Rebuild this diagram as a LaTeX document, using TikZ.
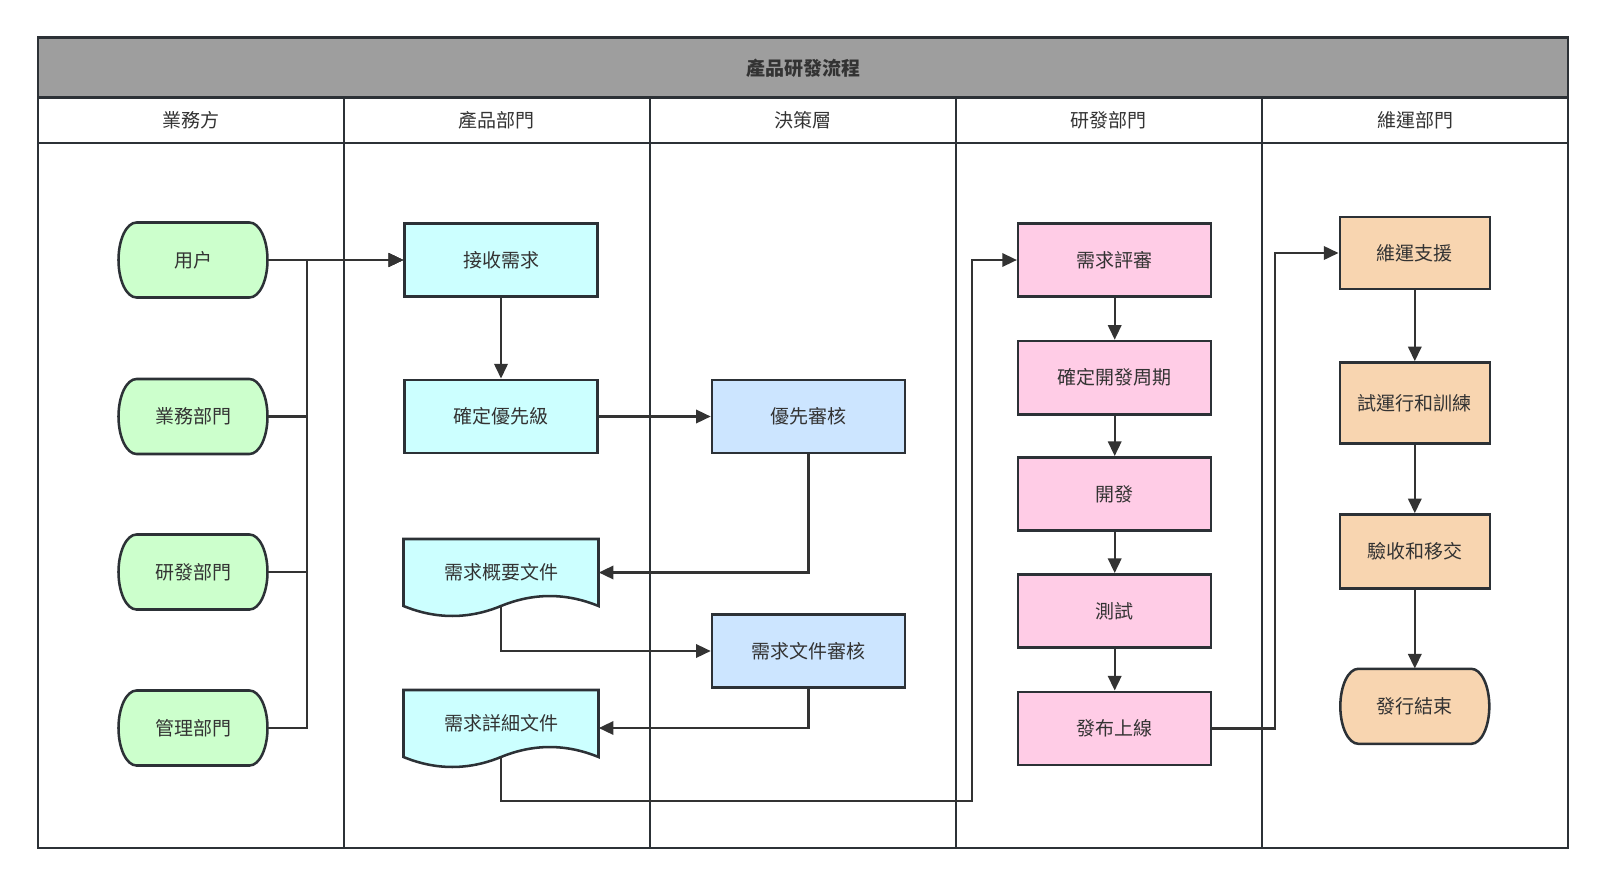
\documentclass[tikz,border=0pt]{standalone}
\usepackage{fontspec}
\setmainfont{Noto Sans CJK TC}
\usetikzlibrary{arrows.meta,calc}
\definecolor{frm}{HTML}{2C3136}
\definecolor{ln}{HTML}{333333}
\definecolor{txt}{HTML}{333333}
\definecolor{cgreen}{HTML}{CCFFCC}
\definecolor{ccyan}{HTML}{CCFFFF}
\definecolor{cblue}{HTML}{CCE5FF}
\definecolor{cpink}{HTML}{FFCCE6}
\definecolor{corange}{HTML}{F8D5B0}
\definecolor{cgray}{HTML}{9E9E9E}
\newcommand\fsz{\fontsize{14.25pt}{17pt}\selectfont}
% terminal: name, x, y, text, fill
\newcommand\termnode[5]{%
  \path[fill=#5,draw=frm,line width=1.9pt]
    (#2-56.5,#3-37.5) -- (#2+56.5,#3-37.5)
    arc[start angle=90,end angle=-90,x radius=13.5pt,y radius=28.125pt]
    -- (#2-56.5,#3+37.5)
    arc[start angle=270,end angle=90,x radius=13.5pt,y radius=28.125pt] -- cycle;
  \node[plain,minimum width=111.75pt,minimum height=56.25pt] (#1) at (#2,#3) {#4};}
% document: name, xc, top, base, text
\newcommand\docnode[5]{%
  \path[fill=ccyan,draw=frm,line width=1.9pt]
    (#2-97.5,#3) -- (#2+97.5,#3) -- (#2+97.5,#4)
    .. controls (#2+65,#4-13.3) and (#2+32.5,#4-13.3) .. (#2,#4)
    .. controls (#2-32.5,#4+13.3) and (#2-65,#4+13.3) .. (#2-97.5,#4) -- cycle;
  \node[plain,minimum width=146.25pt,minimum height={(#4-#3)*0.75pt}] (#1) at (#2,{(#3+#4)/2}) {#5};}
\begin{document}
\begin{tikzpicture}[x=0.75pt,y=-0.75pt,
  plain/.style={rectangle,inner sep=0pt,text=txt,font=\fsz},
  box/.style={plain,draw=frm,line width=1.9pt,minimum width=144.75pt,minimum height=55pt},
  obox/.style={plain,draw=frm,line width=1.9pt,fill=corange,minimum width=112.5pt,minimum height=54pt},
  lane/.style={draw=frm,line width=1.9pt},
  conn/.style={draw=ln,line width=1.8pt},
  arr/.style={conn,-{Triangle[length=11pt,width=10pt]}},
  hdr/.style={plain}]
\useasboundingbox (0,0) rectangle (1605,885);
% frame
\fill[cgray] (38,37.5) rectangle (1568,97.5);
\draw[lane] (38,97.5) -- (1568,97.5);
\draw[lane] (38,143) -- (1568,143);
\foreach \x in {343.8,649.8,955.8,1262} \draw[lane] (\x,97.5) -- (\x,848);
\draw[lane] (38,37.5) rectangle (1568,848);
\node[plain,font=\fsz\bfseries] (title) at (803,68) {產品研發流程};
\node[hdr] (h1) at (190.9,120.5) {業務方};
\node[hdr] (h2) at (496.8,120.5) {產品部門};
\node[hdr] (h3) at (802.8,120.5) {決策層};
\node[hdr] (h4) at (1108.9,120.5) {研發部門};
\node[hdr] (h5) at (1415,120.5) {維運部門};
% terminals
\termnode{u1}{193}{260}{用户}{cgreen}
\termnode{u2}{193}{416.5}{業務部門}{cgreen}
\termnode{u3}{193}{572}{研發部門}{cgreen}
\termnode{u4}{193}{728}{管理部門}{cgreen}
% product
\node[box,fill=ccyan] (p1) at (501,260) {接收需求};
\node[box,fill=ccyan] (p2) at (501,416.5) {確定優先級};
\docnode{d1}{501}{539}{606}{需求概要文件}
\docnode{d2}{501}{690}{757}{需求詳細文件}
% decision
\node[box,fill=cblue] (r1) at (808.5,416.5) {優先審核};
\node[box,fill=cblue] (r2) at (808.5,651) {需求文件審核};
% R&D
\node[box,fill=cpink] (e1) at (1114.7,260) {需求評審};
\node[box,fill=cpink] (e2) at (1114.7,377.7) {確定開發周期};
\node[box,fill=cpink] (e3) at (1114.7,494) {開發};
\node[box,fill=cpink] (e4) at (1114.7,611) {測試};
\node[box,fill=cpink] (e5) at (1114.7,728.5) {發布上線};
% ops
\node[obox] (o1) at (1414.8,253) {維運支援};
\node[obox,minimum height=60.75pt] (o2) at (1414.8,403) {試運行和訓練};
\node[obox,minimum height=55.5pt] (o3) at (1414.8,551.5) {驗收和移交};
\termnode{o4}{1414.8}{706.3}{發行結束}{corange}
% connectors
\coordinate (trunk) at (307,260);
\draw[arr] (u1.east) -- (p1.west);
\draw[arr] (u2.east) -| (trunk) -- (p1.west);
\draw[arr] (u3.east) -| (trunk) -- (p1.west);
\draw[arr] (u4.east) -| (trunk) -- (p1.west);
\draw[arr] (p1) -- (p2);
\draw[arr] (p2) -- (r1);
\draw[arr] (r1.south) |- (d1.east);
\draw[arr] (d1.south) |- (r2.west);
\draw[arr] (r2.south) |- ($(d2.east)+(0,4.5)$);
\coordinate (bend1) at (972,801);
\draw[arr] (d2.south) |- (bend1) |- (e1.west);
\draw[arr] (e1) -- (e2);
\draw[arr] (e2) -- (e3);
\draw[arr] (e3) -- (e4);
\draw[arr] (e4) -- (e5);
\coordinate (bend2) at (1274.8,728.5);
\draw[arr] (e5.east) -- (bend2) |- (o1.west);
\draw[arr] (o1) -- (o2);
\draw[arr] (o2) -- (o3);
\draw[arr] (o3) -- (o4);
\end{tikzpicture}
\end{document}
